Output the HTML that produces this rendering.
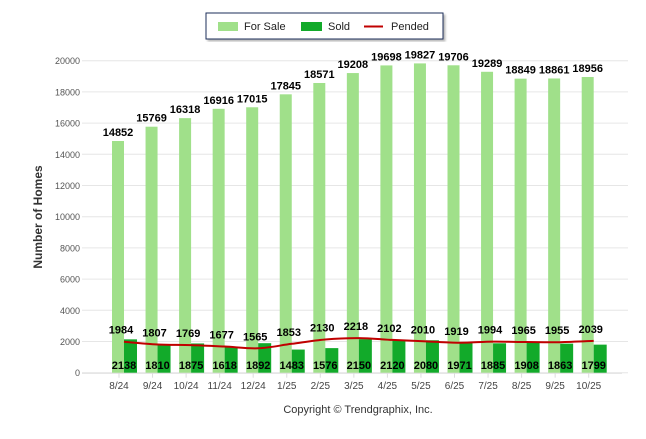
<!DOCTYPE html>
<html><head><meta charset="utf-8"><style>
body{margin:0;background:#fff;width:646px;height:434px;overflow:hidden;font-family:"Liberation Sans",sans-serif}
</style></head><body>
<svg id="c" width="646" height="434" xmlns="http://www.w3.org/2000/svg" font-family="Liberation Sans, sans-serif">
<defs><filter id="sh"><feDropShadow dx="2" dy="2" stdDeviation="1" flood-color="#888" flood-opacity="0.6"/></filter></defs>
<g>
<rect x="206" y="13" width="237" height="26" fill="#fff" stroke="#1f2d5a" stroke-width="1" filter="url(#sh)"/>
<rect x="218" y="22" width="20" height="9" fill="#a0e08a"/>
<text x="244" y="30" font-size="11" fill="#222">For Sale</text>
<rect x="301" y="22" width="21" height="9" fill="#12aa2a"/>
<text x="328" y="30" font-size="11" fill="#222">Sold</text>
<line x1="364" y1="26.5" x2="383" y2="26.5" stroke="#c00000" stroke-width="2"/>
<text x="391" y="30" font-size="11" fill="#222">Pended</text>
</g>
<g id="grid"></g><g id="bars"></g><g id="line"></g><g id="labels"></g>
<text transform="translate(42,217) rotate(-90)" text-anchor="middle" font-size="12" font-weight="bold" fill="#333">Number of Homes</text>
<text x="358" y="413" text-anchor="middle" font-size="11" fill="#333">Copyright © Trendgraphix, Inc.</text>
</svg>
<script>
const categories=["8/24","9/24","10/24","11/24","12/24","1/25","2/25","3/25","4/25","5/25","6/25","7/25","8/25","9/25","10/25"];
const forSale=[14852,15769,16318,16916,17015,17845,18571,19208,19698,19827,19706,19289,18849,18861,18956];
const sold=[2138,1810,1875,1618,1892,1483,1576,2150,2120,2080,1971,1885,1908,1863,1799];
const pended=[1984,1807,1769,1677,1565,1853,2130,2218,2102,2010,1919,1994,1965,1955,2039];
const yTicks=[0,2000,4000,6000,8000,10000,12000,14000,16000,18000,20000];
const NS="http://www.w3.org/2000/svg";
const y0=372.7,yMax=20000,yTop=60.7;
function y(v){return y0-(v/yMax)*(y0-yTop);}
function x(i){return 119+i*33.55;}
function mk(tag,attrs,parent,txt){const e=document.createElementNS(NS,tag);for(const k in attrs)e.setAttribute(k,attrs[k]);if(txt!==undefined)e.textContent=txt;parent.appendChild(e);return e;}
const g=document.getElementById('grid'),b=document.getElementById('bars'),l=document.getElementById('line'),lb=document.getElementById('labels');
yTicks.forEach(t=>{
 const ln=mk('line',{x1:82,x2:628,y1:y(t),y2:y(t),stroke:'#e6e6e6','stroke-width':1},g);
 
 
 const tx=mk('text',{x:80,y:y(t)+3.5,'text-anchor':'end','font-size':9,fill:'#555'},g,t);
 
 
});
mk('line',{x1:82,x2:622,y1:y0+0.5,y2:y0+0.5,stroke:'#ddd'},g);
categories.forEach((c,i)=>{
 const cx=x(i);
 const tk=mk('line',{x1:cx,x2:cx,y1:y0,y2:y0+5,stroke:'#ddd'},g);
 
 
 const t=mk('text',{x:cx,y:389,'text-anchor':'middle','font-size':10,fill:'#444'},g,c);
 
 
 const r1=mk('rect',{x:cx-7,y:y(forSale[i]),width:12,height:y0-y(forSale[i]),fill:'#a0e08a'},b);
 
 
 const r2=mk('rect',{x:cx+5,y:y(sold[i]),width:13,height:y0-y(sold[i]),fill:'#12aa2a'},b);
 
 
 const a=mk('text',{x:cx-1,y:y(forSale[i])-5,'text-anchor':'middle','font-size':11,'font-weight':'bold',fill:'#000'},lb,forSale[i]);
 
 
 const s=mk('text',{x:cx+5,y:369,'text-anchor':'middle','font-size':11,'font-weight':'bold',fill:'#000'},lb,sold[i]);
 
 
 const p=mk('text',{x:cx+2,y:y(pended[i])-8,'text-anchor':'middle','font-size':11,'font-weight':'bold',fill:'#000'},lb,pended[i]);
 
 
});
const pts=pended.map((v,i)=>[x(i)+5,y(v)]);
let d='M'+pts[0][0]+','+pts[0][1];
for(let i=0;i<pts.length-1;i++){
 const p0=pts[Math.max(0,i-1)],p1=pts[i],p2=pts[i+1],p3=pts[Math.min(pts.length-1,i+2)];
 const c1=[p1[0]+(p2[0]-p0[0])/6,p1[1]+(p2[1]-p0[1])/6],c2=[p2[0]-(p3[0]-p1[0])/6,p2[1]-(p3[1]-p1[1])/6];
 d+=' C'+c1+' '+c2+' '+p2;
}
const path=mk('path',{d:d,fill:'none',stroke:'#c00000','stroke-width':2},l);


</script>
</body></html>
